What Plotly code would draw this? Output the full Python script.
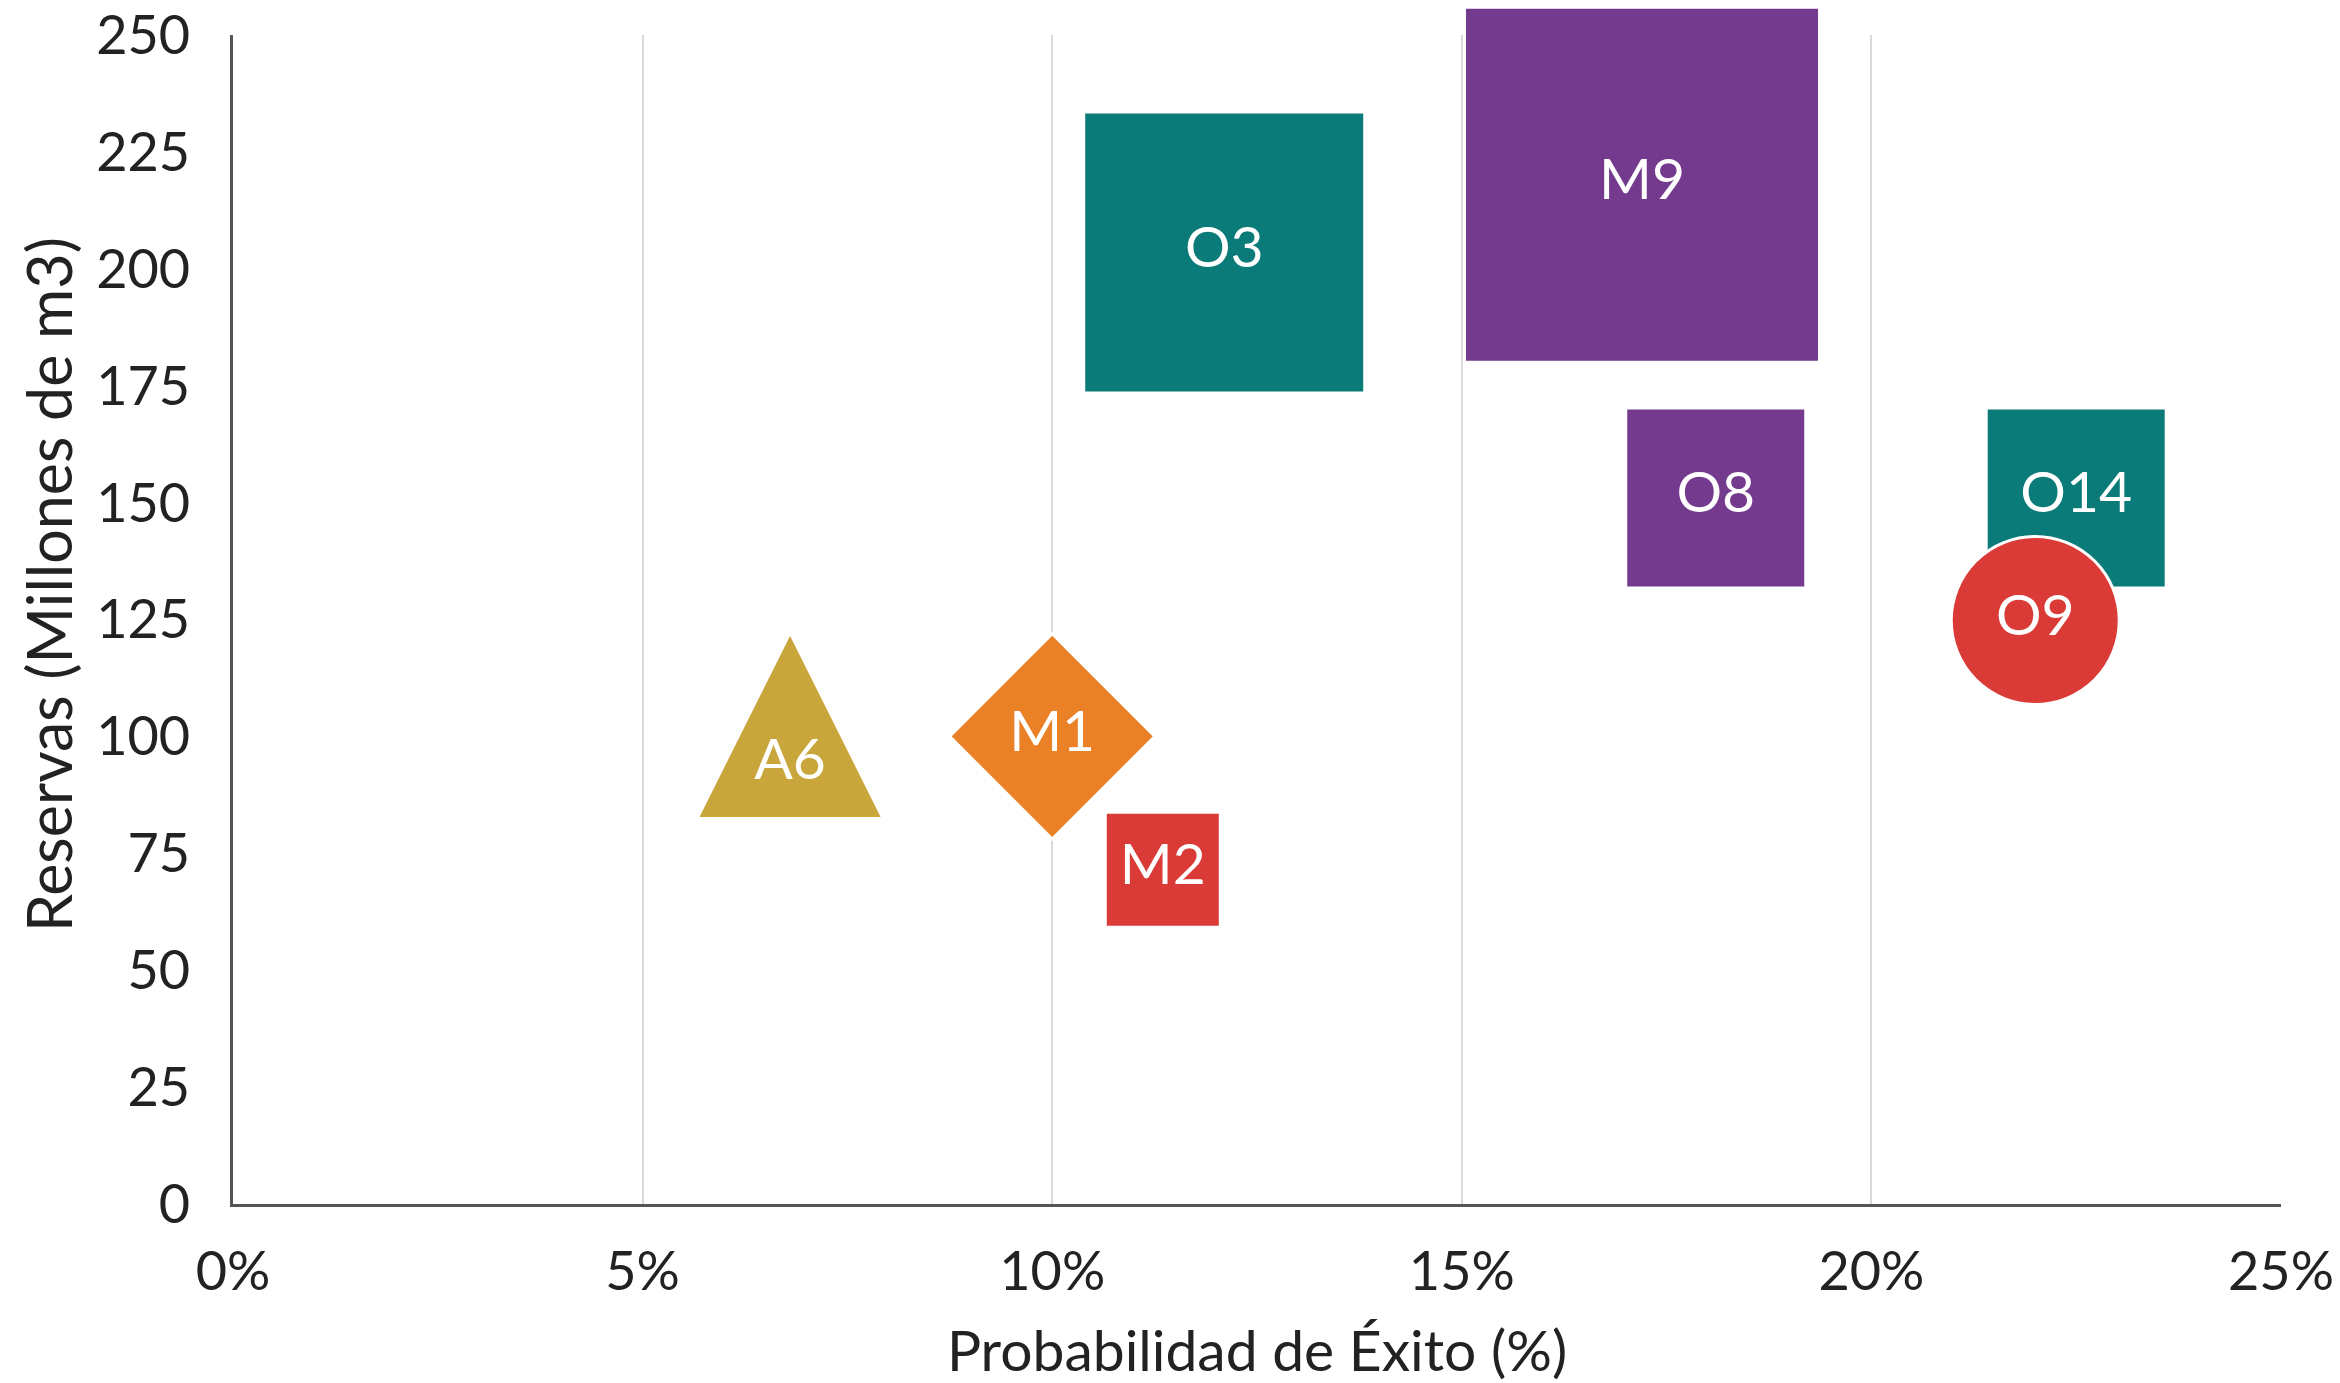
import plotly.graph_objects as go

# ---- data ----
names = ["O3", "M9", "O8", "O14", "O9", "M1", "M2", "A6"]
prob_exito = [12.1, 17.2, 18.1, 22.5, 22.0, 10.0, 11.35, 6.8]      # %
reservas = [203.5, 218.0, 151.0, 151.0, 124.8, 100.0, 71.5, 94.0]   # millones de m3

x_ticks = [0, 5, 10, 15, 20, 25]
y_ticks = [0, 25, 50, 75, 100, 125, 150, 175, 200, 225, 250]

# ---- styles ----
symbols = ["square", "square", "square", "square", "circle", "diamond", "square", "arrow-down"]
sizes = [281, 355, 180, 180, 168, 158, 115, 186]
angles = [0, 0, 0, 0, 0, 0, 0, 180]
standoffs = [0, 0, 0, 0, 0, 0, 0, 132]
TEAL, PURPLE, RED, ORANGE, MUSTARD = "#0A7B78", "#743A8D", "#DB3B36", "#EA8127", "#C9A63B"
colors = [TEAL, PURPLE, PURPLE, TEAL, RED, ORANGE, RED, MUSTARD]

FONT = "Lato, 'Open Sans', sans-serif"
TXT = "#222222"

fig = go.Figure()
fig.add_trace(go.Scatter(
    x=prob_exito, y=reservas, text=names,
    mode="markers+text",
    textposition="middle center",
    textfont=dict(family=FONT, size=57, color="white"),
    marker=dict(symbol=symbols, size=sizes, color=colors, opacity=1,
                angle=angles, standoff=standoffs,
                line=dict(color="white", width=3)),
    cliponaxis=False,
    showlegend=False,
    hoverinfo="text",
))

fig.update_layout(
    width=2340, height=1383,
    margin=dict(l=233, r=59, t=35, b=179, autoexpand=False),
    paper_bgcolor="white", plot_bgcolor="white",
    font=dict(family=FONT, size=54, color=TXT),
    xaxis=dict(
        range=[0, 25], tickvals=x_ticks, ticktext=[f"{v}%" for v in x_ticks],
        showgrid=True, gridcolor="#D9D9D9", gridwidth=2,
        showline=True, linecolor="#555555", linewidth=3,
        zeroline=False, ticks="", ticklabelstandoff=18, automargin=False,
        tickfont=dict(family=FONT, size=54, color=TXT),
        title=dict(text="Probabilidad de Éxito (%)", standoff=32,
                   font=dict(family=FONT, size=57, color=TXT)),
    ),
    yaxis=dict(
        range=[0, 250], tickvals=y_ticks,
        showgrid=False,
        showline=True, linecolor="#555555", linewidth=3,
        zeroline=False, ticks="", ticklabelstandoff=29, automargin=False,
        tickfont=dict(family=FONT, size=54, color=TXT),
    ),
    annotations=[dict(
        text="Reservas (Millones de m3)", textangle=-90,
        xref="paper", yref="paper", x=-0.0903, y=0.5295,
        xanchor="center", yanchor="middle", showarrow=False,
        font=dict(family=FONT, size=61, color=TXT),
    )],
)

fig.write_html("out.html")
